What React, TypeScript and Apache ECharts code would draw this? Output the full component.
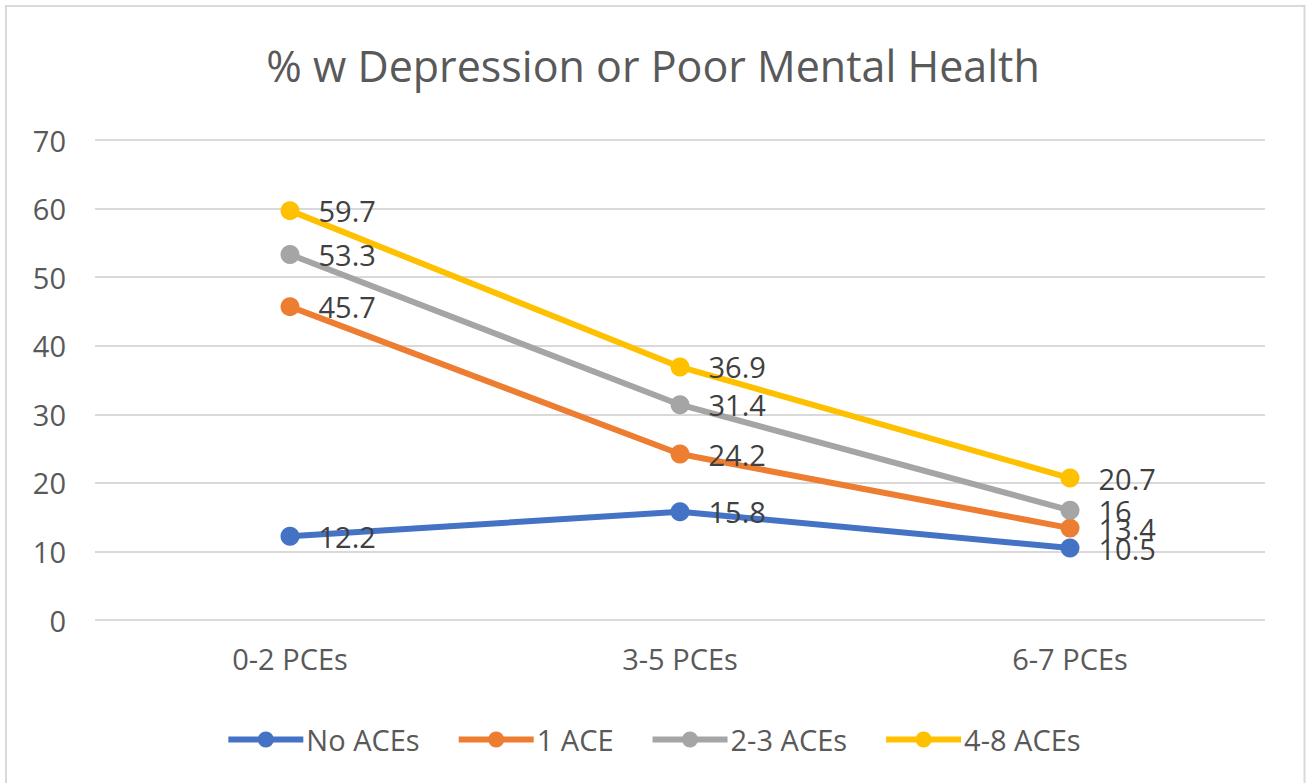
import React, { useEffect, useRef } from "react";
import * as echarts from "echarts";

const categories = ["0-2 PCEs", "3-5 PCEs", "6-7 PCEs"];
const noAces = [12.2, 15.8, 10.5];
const oneAce = [45.7, 24.2, 13.4];
const twoThreeAces = [53.3, 31.4, 16];
const fourEightAces = [59.7, 36.9, 20.7];
const seriesNames = ["No ACEs", "1 ACE", "2-3 ACEs", "4-8 ACEs"];
const colors = ["#4472C4", "#ED7D31", "#A5A5A5", "#FFC000"];

const FONT = "'Open Sans', sans-serif";
const FS = 29;

export default function App() {
  const ref = useRef<HTMLDivElement>(null);
  useEffect(() => {
    if (!ref.current) return;
    const chart = echarts.init(ref.current, undefined, { renderer: "svg" });
    const data = [noAces, oneAce, twoThreeAces, fourEightAces];
    chart.setOption({
      animation: false,
      backgroundColor: "#ffffff",
      title: {
        text: "% w Depression or Poor Mental Health",
        left: "center",
        top: 39,
        textStyle: { fontFamily: FONT, fontSize: 43, fontWeight: "normal", color: "#595959" },
      },
      graphic: [
        {
          type: "rect",
          shape: { x: 6, y: 6, width: 1298.5, height: 800 },
          style: { fill: "none", stroke: "#d9d9d9", lineWidth: 2 },
          silent: true,
        },
      ],
      legend: {
        top: 720,
        left: "center",
        itemWidth: 75,
        itemHeight: 20,
        itemGap: 36,
        data: seriesNames,
        lineStyle: { width: 6 },
        textStyle: { fontFamily: FONT, fontSize: FS, color: "#595959", padding: [0, 0, 0, -2] },
      },
      grid: { left: 95, right: 41, top: 140, bottom: 163, containLabel: false },
      xAxis: {
        type: "category",
        data: categories,
        boundaryGap: true,
        axisLine: { show: false },
        axisTick: { show: false },
        axisLabel: { fontFamily: FONT, fontSize: FS, color: "#595959", margin: 24 },
      },
      yAxis: {
        type: "value",
        min: 0,
        max: 70,
        interval: 10,
        axisLine: { show: false },
        axisTick: { show: false },
        splitLine: { lineStyle: { color: "#d9d9d9", width: 2 } },
        axisLabel: { fontFamily: FONT, fontSize: FS, color: "#595959", margin: 29 },
      },
      series: seriesNames.map((name, i) => ({
        name,
        type: "line",
        data: data[i],
        color: colors[i],
        symbol: "circle",
        symbolSize: 19,
        lineStyle: { width: 6, color: colors[i] },
        itemStyle: { color: colors[i] },
        label: {
          show: true,
          position: "right",
          distance: 19,
          fontFamily: FONT,
          fontSize: FS,
          color: "#404040",
        },
      })),
    });
    return () => chart.dispose();
  }, []);
  return (
    <div
      ref={ref}
      style={{ position: "fixed", left: 0, top: 0, width: 1306, height: 783 }}
    />
  );
}
